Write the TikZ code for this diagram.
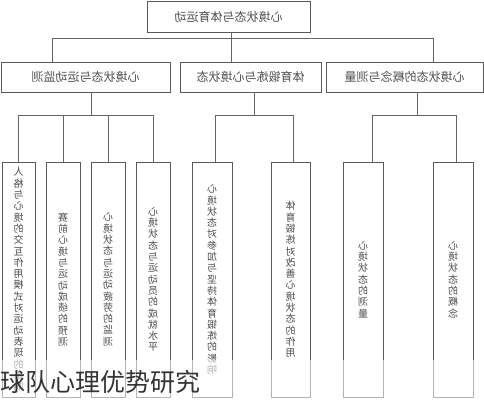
\documentclass[tikz,border=0pt]{standalone}
\usepackage{fontspec}
\setmainfont{Noto Sans CJK SC}
\XeTeXlinebreaklocale "zh"
\XeTeXlinebreakskip=0pt plus 1pt
\begin{document}
\begin{tikzpicture}[x=1pt,y=-1pt,
	box/.style={draw=black!65,line width=0.8pt,xscale=-1,inner sep=0pt,text=black!70},
	head/.style={box,font=\fontsize{12}{14}\selectfont,minimum height=30pt},
	leaf/.style={box,font=\fontsize{10}{11.3}\selectfont,text width=12pt,align=center,minimum height=235pt},
	link/.style={draw=black!60,line width=0.8pt}]
	\useasboundingbox (0,0) rectangle (484,400);
	%\draw[help lines,step=20] (0,0) grid (484,400);
	
	\node[head,minimum width=163pt,minimum height=31pt] (top) at (228.5,16.5) {心境状态与体育运动};
	\node[head,minimum width=169pt] (g1) at (85.5,77) {心境状态与运动监测}; \node[head,minimum width=141pt] (g2) at (250.5,77) {体育锻炼与心境状态}; \node[head,minimum width=157pt] (g3) at (404.5,77) {心境状态的概念与测量};
	
	\node[leaf,minimum width=33pt] (m1) at (18.5,279.5) {人格与心境的交互作用模式对运动表现的影响}; \node[leaf,minimum width=34pt] (m2) at (63,279.5) {赛前心境与运动成绩的预测}; \node[leaf,minimum width=34pt] (m3) at (108,279.5) {心境状态与运动疲劳的监测}; \node[leaf,minimum width=34pt] (m4) at (153,279.5) {心境状态与运动员的成就水平};
	\node[leaf,minimum width=40pt] (n1) at (212,279.5) {心境状态对参加与坚持体育锻炼的影响}; \node[leaf,minimum width=39pt] (n2) at (290.5,279.5) {体育锻炼对改善心境状态的作用};
	\node[leaf,minimum width=40pt] (k1) at (363,279.5) {心境状态的测量}; \node[leaf,minimum width=40pt] (k2) at (453,279.5) {心境状态的概念};
	
	\draw[link] ([xshift=2.5pt]top.south) -- ++(0,5.5) coordinate (b0);
	\draw[link] ([xshift=-33.5pt]g1.north) |- (b0) -| ([xshift=28.5pt]g3.north); \draw[link] (b0) -- ([xshift=-19.5pt]g2.north);
	
	\draw[link] ([xshift=5.5pt]g1.south) -- ++(0,23) coordinate (b1); \draw[link] (m1.north |- b1) -- (m4.north |- b1);
	\foreach \n in {m1,m2,m3,m4} \draw[link] (\n.north) -- (\n.north |- b1);
	\draw[link] ([xshift=3.5pt]g2.south) -- ++(0,23) coordinate (b2); \draw[link] ([xshift=3pt]n1.north) |- (b2) -| ([xshift=2.5pt]n2.north);
	\draw[link] ([xshift=12.5pt]g3.south) -- ++(0,23) coordinate (b3); \draw[link] ([xshift=9pt]k1.north) |- (b3) -| ([xshift=3pt]k2.north);
	
	\fill[white,opacity=0.55] (0,360) rectangle (484,400);
	\node[anchor=west,inner sep=0pt,font=\fontsize{25}{28}\selectfont,text=black!80] (mark) at (0,382) {球队心理优势研究};
\end{tikzpicture}
\end{document}
